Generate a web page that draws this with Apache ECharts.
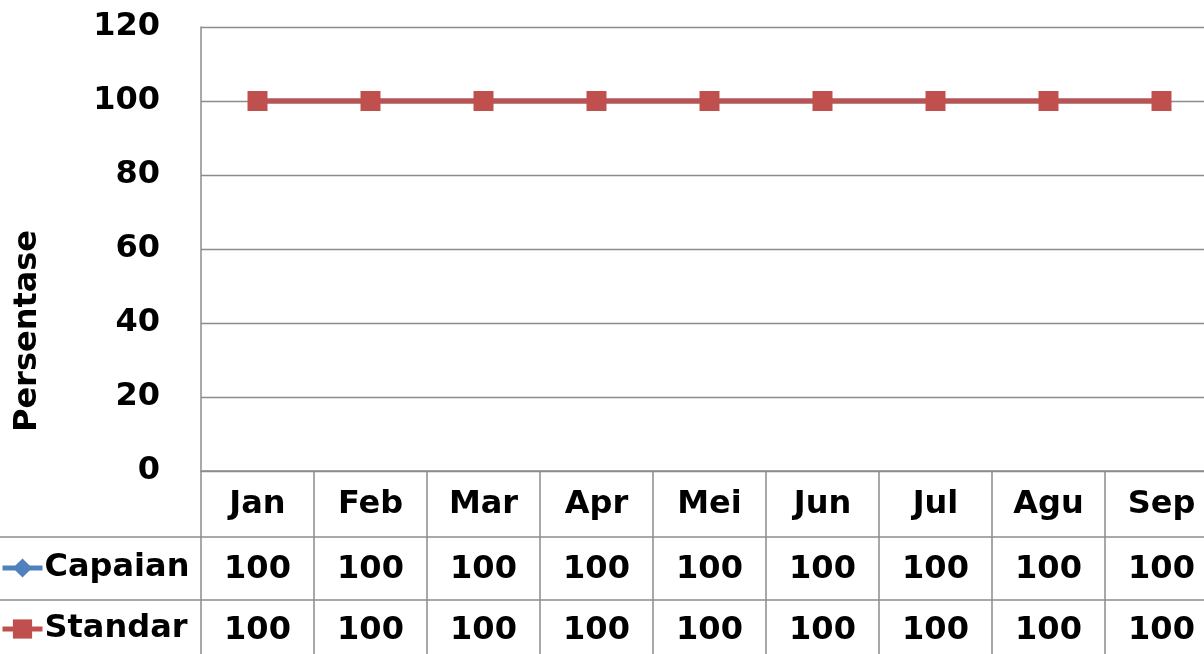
<!DOCTYPE html>
<html>
<head>
<meta charset="utf-8">
<style>
  html, body { margin: 0; padding: 0; background: #fff; }
  #chart { width: 1204px; height: 654px; }
</style>
<script src="https://cdn.jsdelivr.net/npm/echarts@6/dist/echarts.min.js"></script>
</head>
<body>
<div id="chart"></div>
<script>
const months = ['Jan', 'Feb', 'Mar', 'Apr', 'Mei', 'Jun', 'Jul', 'Agu', 'Sep']
const capaian = [100, 100, 100, 100, 100, 100, 100, 100, 100]
const standar = [100, 100, 100, 100, 100, 100, 100, 100, 100]
const yMax = 120
const yStep = 20

const FONT = 'DejaVu Sans'
const lineGray = '#8c8c8c'
const boldText = { fontFamily: FONT, fontWeight: 'bold', fontSize: 32, color: '#000' }

const chart = echarts.init(document.getElementById('chart'))

// table rows under the plot are extra category axes that print the values
function rowAxis(values, offset) {
  return {
    type: 'category',
    data: months,
    position: 'bottom',
    offset: offset,
    axisLine: { show: false },
    axisTick: { show: false },
    axisLabel: Object.assign({ interval: 0, margin: 18, formatter: (v, i) => String(values[i]) }, boldText)
  }
}

function legendRow(name, top) {
  return {
    data: [name], left: 0, top: top, padding: 0,
    itemWidth: 40, itemHeight: 24, itemGap: 0,
    lineStyle: { width: 5 },
    textStyle: Object.assign({ padding: [0, 0, 0, -3] }, boldText)
  }
}

chart.setOption({
  animation: false,
  grid: { left: 201, top: 27, width: 1017, height: 444, outerBoundsMode: 'none' },
  legend: [legendRow('Capaian', 552), legendRow('Standar', 613)],
  xAxis: [
    {
      type: 'category',
      data: months,
      boundaryGap: true,
      axisLine: { lineStyle: { color: lineGray, width: 1.5 } },
      axisTick: { show: true, interval: 0, length: 190, lineStyle: { color: lineGray, width: 1.5 } },
      axisLabel: Object.assign({ interval: 0, margin: 18 }, boldText)
    },
    rowAxis(capaian, 65),
    rowAxis(standar, 126)
  ],
  yAxis: {
    type: 'value',
    min: 0,
    max: yMax,
    interval: yStep,
    axisLine: { show: true, lineStyle: { color: lineGray, width: 1.5 } },
    axisTick: { show: false },
    splitLine: { lineStyle: { color: lineGray, width: 1.3 } },
    axisLabel: Object.assign({ margin: 41 }, boldText)
  },
  graphic: [
    {
      type: 'text',
      x: 28, y: 331, rotation: Math.PI / 2,
      style: { text: 'Persentase', fontFamily: FONT, fontWeight: 'bold', fontSize: 32, fill: '#000', align: 'center', verticalAlign: 'middle' }
    },
    { type: 'line', shape: { x1: 0, y1: 537, x2: 1204, y2: 537 }, style: { stroke: lineGray, lineWidth: 1.5 } },
    { type: 'line', shape: { x1: 0, y1: 600, x2: 1204, y2: 600 }, style: { stroke: lineGray, lineWidth: 1.5 } }
  ],
  series: [
    {
      name: 'Capaian',
      type: 'line',
      data: capaian,
      symbol: 'diamond',
      symbolSize: 18,
      itemStyle: { color: '#4F81BD' },
      lineStyle: { color: '#4F81BD', width: 5 }
    },
    {
      name: 'Standar',
      type: 'line',
      data: standar,
      symbol: 'rect',
      symbolSize: 20,
      itemStyle: { color: '#C0504D' },
      lineStyle: { color: '#C0504D', width: 5 }
    }
  ]
})
</script>
</body>
</html>
